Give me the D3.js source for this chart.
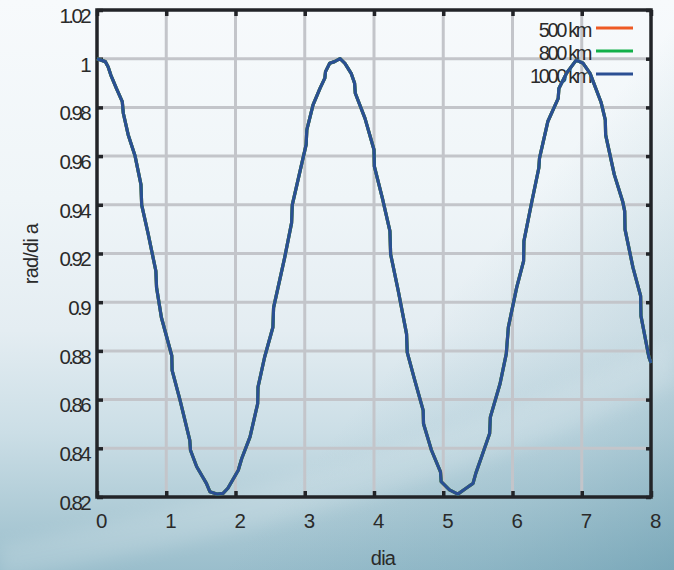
<!DOCTYPE html>
<html>
<head>
<meta charset="utf-8">
<script src="https://cdn.jsdelivr.net/npm/d3@7"></script>
<style>
html,body{margin:0;padding:0;background:#fff;}
svg{display:block;}
text{font-family:"Liberation Sans",Arial,sans-serif;fill:#2a2a2a;}
</style>
</head>
<body>
<svg id="chart" width="674" height="570"></svg>
<script>
// ---- data ----
const days = [0,0.12,0.16,0.2,0.28,0.365,0.38,0.45,0.55,0.635,0.645,0.74,0.85,0.86,0.93,1.08,1.085,1.2,1.34,1.35,1.44,1.52,1.58,1.63,1.73,1.82,1.89,2.04,2.09,2.21,2.32,2.325,2.42,2.54,2.55,2.71,2.81,2.82,3.02,3.03,3.12,3.22,3.29,3.3,3.36,3.43,3.51,3.58,3.67,3.72,3.73,3.87,4.0,4.005,4.12,4.23,4.24,4.35,4.47,4.48,4.59,4.71,4.715,4.83,4.96,4.97,5.09,5.21,5.33,5.43,5.47,5.57,5.67,5.68,5.82,5.91,5.94,6.06,6.16,6.165,6.27,6.38,6.39,6.51,6.66,6.67,6.78,6.92,7.02,7.12,7.28,7.34,7.345,7.47,7.59,7.62,7.625,7.74,7.85,7.855,7.97,8.0];
const rate1000 = [1.000,0.9988,0.9967,0.9933,0.9878,0.9824,0.9776,0.9688,0.9600,0.9483,0.9400,0.9279,0.9128,0.9060,0.8937,0.8780,0.8720,0.8597,0.8433,0.8392,0.8324,0.8285,0.8256,0.8222,0.8212,0.8215,0.8236,0.8310,0.8358,0.8447,0.8583,0.8651,0.8774,0.8897,0.8978,0.9183,0.9326,0.9400,0.9647,0.9708,0.9810,0.9878,0.9920,0.9947,0.9981,0.9988,1.0000,0.9981,0.9940,0.9899,0.9858,0.9755,0.9626,0.9558,0.9428,0.9292,0.9197,0.9047,0.8870,0.8794,0.8678,0.8556,0.8501,0.8392,0.8303,0.8263,0.8229,0.8212,0.8236,0.8256,0.8297,0.8379,0.8461,0.8528,0.8665,0.8788,0.8897,0.9060,0.9169,0.9251,0.9400,0.9551,0.9592,0.9742,0.9837,0.9878,0.9940,0.9994,0.9981,0.9940,0.9820,0.9749,0.9687,0.9524,0.9415,0.9374,0.9299,0.9142,0.9026,0.8944,0.8774,0.8750];
// the 500 km and 800 km curves coincide with the 1000 km curve in the picture
const rate800 = rate1000.slice();
const rate500 = rate1000.slice();
const seriesNames = ["500 km","800 km","1000 km"];
const seriesColors = ["#ee5a24","#12b04a","#2b4f93"];
const xTicks = [0,1,2,3,4,5,6,7,8];
const yTicks = [0.82,0.84,0.86,0.88,0.90,0.92,0.94,0.96,0.98,1.0,1.02];
const yTickLabels = ["0.82","0.84","0.86","0.88","0.9","0.92","0.94","0.96","0.98","1","1.02"];

// ---- drawing ----
const svg = d3.select("#chart");
const W = 674, H = 570;
const defs = svg.append("defs");

const g1 = defs.append("linearGradient").attr("id","bgv").attr("x1",0).attr("y1",0).attr("x2",0).attr("y2",1);
[[0,"#f7fafc"],[0.35,"#eff5f8"],[0.58,"#e4edf2"],[0.76,"#cbdee6"],[0.9,"#aecbd6"],[1,"#9abecc"]]
  .forEach(s=>g1.append("stop").attr("offset",s[0]).attr("stop-color",s[1]));
const g2 = defs.append("linearGradient").attr("id","bgd").attr("x1",0).attr("y1",0.3).attr("x2",1).attr("y2",1);
[[0,"#5f97ab",0],[0.55,"#5f97ab",0.0],[0.8,"#5f97ab",0.22],[1,"#4f8aa0",0.42]]
  .forEach(s=>g2.append("stop").attr("offset",s[0]).attr("stop-color",s[1]).attr("stop-opacity",s[2]));
const blur = defs.append("filter").attr("id","blur").attr("x","-20%").attr("y","-50%").attr("width","140%").attr("height","200%");
blur.append("feGaussianBlur").attr("stdDeviation",8);

svg.append("rect").attr("width",W).attr("height",H).attr("fill","url(#bgv)");
svg.append("rect").attr("width",W).attr("height",H).attr("fill","url(#bgd)");
svg.append("path")
  .attr("d","M0,545 C200,505 420,455 674,340 L674,385 C430,495 220,540 0,580 Z")
  .attr("fill","#ffffff").attr("opacity",0.14).attr("filter","url(#blur)");

const pLeft = 97, pRight = 651, pTop = 10, pBottom = 497;
const x = d3.scaleLinear().domain([0,8]).range([pLeft,pRight]);
const y = d3.scaleLinear().domain([0.82,1.02]).range([pBottom,pTop]);

// grid
const grid = svg.append("g");
grid.selectAll("line.gx").data(xTicks.slice(1,-1)).join("line")
  .attr("x1",d=>x(d)).attr("x2",d=>x(d)).attr("y1",pTop).attr("y2",pBottom)
  .attr("stroke","#c3c5ca").attr("stroke-width",3);
grid.selectAll("line.gy").data(yTicks.slice(1,-1)).join("line")
  .attr("y1",d=>y(d)).attr("y2",d=>y(d)).attr("x1",pLeft).attr("x2",pRight)
  .attr("stroke","#c3c5ca").attr("stroke-width",3);

// axes with inward ticks
const axisStyle = g => {
  g.select(".domain").remove();
  g.selectAll(".tick line").attr("stroke","#222428").attr("stroke-width",3.5);
  g.selectAll(".tick text").style("font-family","'Liberation Sans',Arial,sans-serif")
   .style("font-size","20.5px").attr("fill","#2a2a2a").style("letter-spacing","-2.6px");
};
svg.append("g").attr("transform",`translate(0,${pBottom})`)
  .call(d3.axisBottom(x).tickValues(xTicks).tickFormat(d3.format("d")).tickSizeInner(-6).tickPadding(16))
  .call(axisStyle).call(g=>g.selectAll(".tick text").attr("dx",3));
svg.append("g").attr("transform",`translate(${pLeft},0)`)
  .call(d3.axisLeft(y).tickValues(yTicks).tickFormat((d,i)=>yTickLabels[i]).tickSizeInner(-6).tickPadding(8))
  .call(axisStyle).call(g=>g.selectAll(".tick text").attr("dy","0.6em"));
svg.append("g").attr("transform",`translate(0,${pTop})`)
  .call(d3.axisTop(x).tickValues(xTicks).tickFormat("").tickSizeInner(-6))
  .call(axisStyle);
svg.append("g").attr("transform",`translate(${pRight},0)`)
  .call(d3.axisRight(y).tickValues(yTicks).tickFormat("").tickSizeInner(-5))
  .call(axisStyle);

// frame
svg.append("rect").attr("x",pLeft).attr("y",pTop).attr("width",pRight-pLeft).attr("height",pBottom-pTop)
  .attr("fill","none").attr("stroke","#222428").attr("stroke-width",3.5);

// axis titles
svg.append("text").attr("x",383).attr("y",565).attr("text-anchor","middle")
  .style("font-size","20px").style("letter-spacing","-0.8px").text("dia");
svg.append("text").attr("transform","translate(38,254) rotate(-90)").attr("text-anchor","middle")
  .style("font-size","20px").style("letter-spacing","-0.8px").text("rad/di a");

// legend
const leg = svg.append("g");
seriesNames.forEach((n,i)=>{
  const by = 37 + i*23;
  leg.append("text").attr("x",590).attr("y",by).attr("text-anchor","end")
    .style("font-size","20px").style("letter-spacing","-2.4px").text(n);
  leg.append("line").attr("x1",596).attr("x2",633).attr("y1",by-9).attr("y2",by-9)
    .attr("stroke",seriesColors[i]).attr("stroke-width",3);
});

// lines
const line = d3.line().x((d,i)=>x(days[i])).y(d=>y(d));
[rate500,rate800,rate1000].forEach((s,i)=>{
  svg.append("path").datum(s).attr("d",line).attr("fill","none")
    .attr("stroke",seriesColors[i]).attr("stroke-width",3.2).attr("stroke-linejoin","round");
});
</script>
</body>
</html>
